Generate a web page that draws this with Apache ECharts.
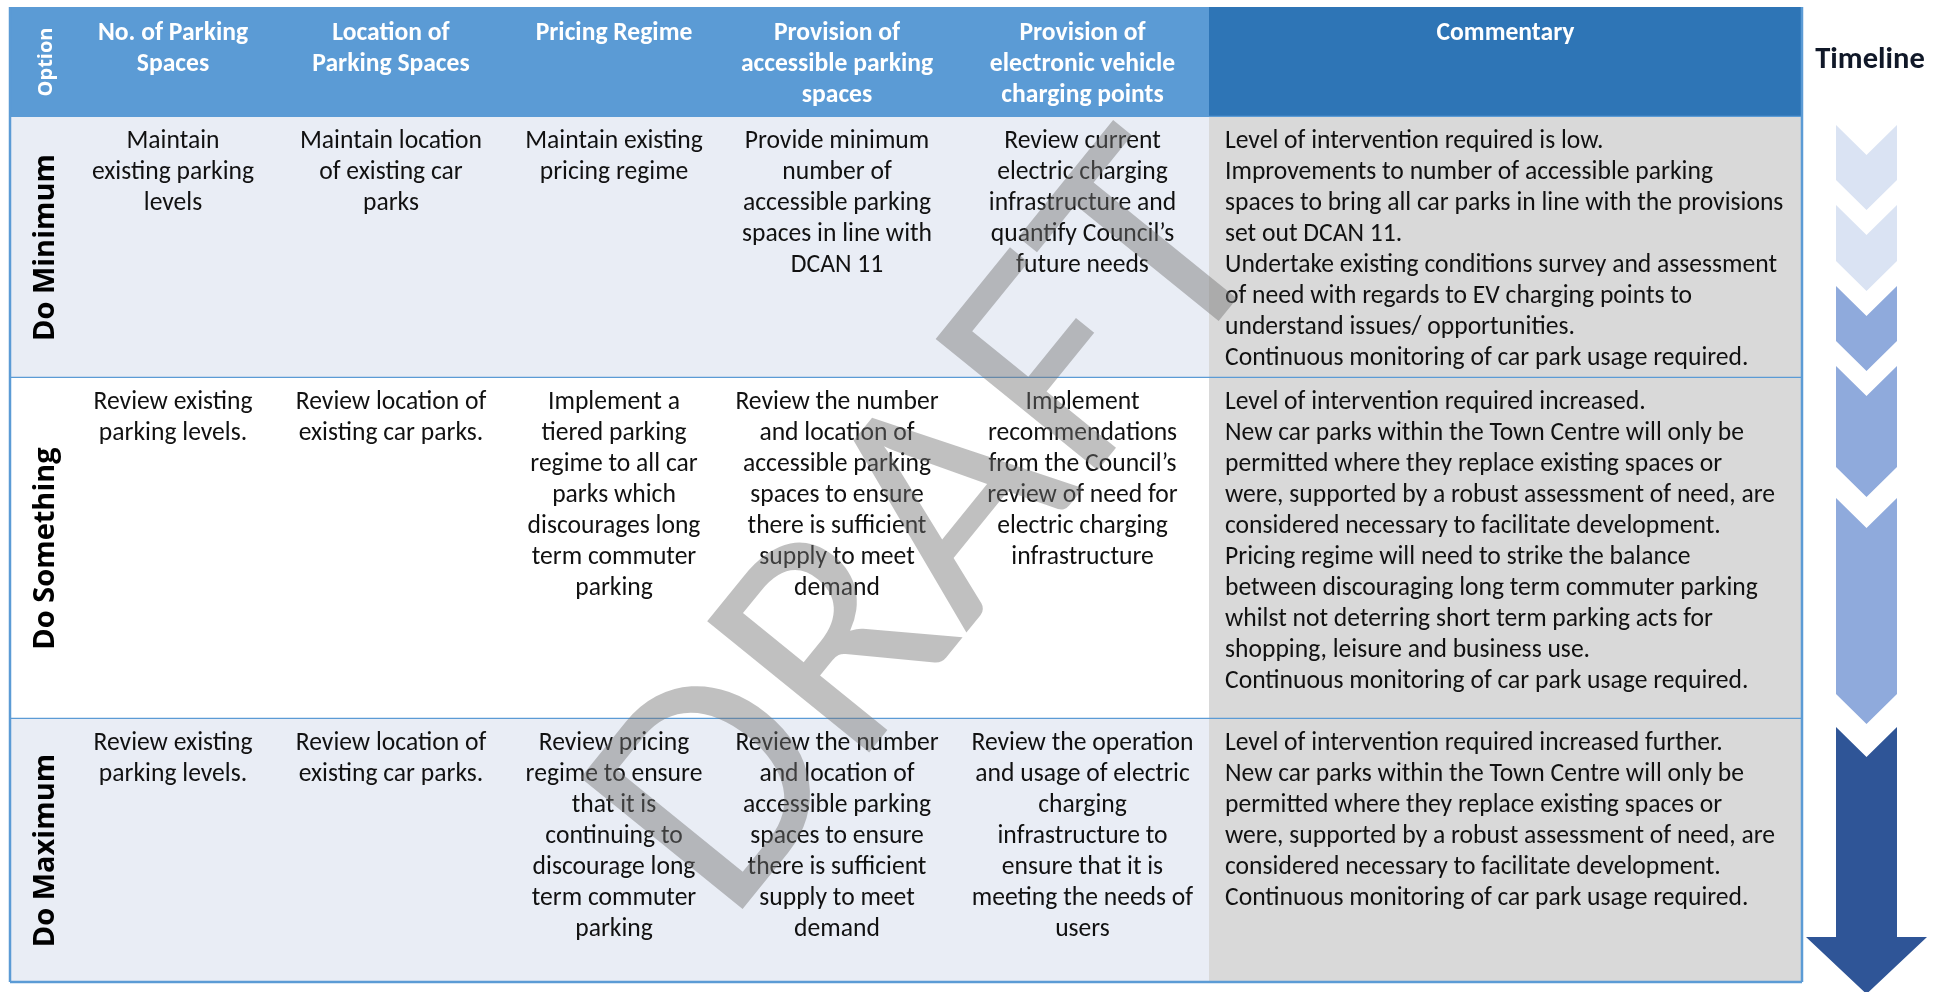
<!DOCTYPE html>
<html>
<head>
<meta charset="utf-8">
<script src="https://cdn.jsdelivr.net/npm/echarts@6/dist/echarts.min.js"></script>
<style>
html,body{margin:0;padding:0;background:#ffffff;}
#chart{width:1941px;height:992px;}
</style>
</head>
<body>
<div id="chart"></div>
<script>
// ---------------- DATA ----------------
const columns = [
  'Option',
  'No. of Parking\nSpaces',
  'Location of\nParking Spaces',
  'Pricing Regime',
  'Provision of\naccessible parking\nspaces',
  'Provision of\nelectronic vehicle\ncharging points',
  'Commentary'
];
const options = ['Do Minimum', 'Do Something', 'Do Maximum'];
const parkingNumbers = [
  'Maintain\nexisting parking\nlevels',
  'Review existing\nparking levels.',
  'Review existing\nparking levels.'
];
const parkingLocations = [
  'Maintain location\nof existing car\nparks',
  'Review location of\nexisting car parks.',
  'Review location of\nexisting car parks.'
];
const pricingRegime = [
  'Maintain existing\npricing regime',
  'Implement a\ntiered parking\nregime to all car\nparks which\ndiscourages long\nterm commuter\nparking',
  'Review pricing\nregime to ensure\nthat it is\ncontinuing to\ndiscourage long\nterm commuter\nparking'
];
const accessibleSpaces = [
  'Provide minimum\nnumber of\naccessible parking\nspaces in line with\nDCAN 11',
  'Review the number\nand location of\naccessible parking\nspaces to ensure\nthere is sufficient\nsupply to meet\ndemand',
  'Review the number\nand location of\naccessible parking\nspaces to ensure\nthere is sufficient\nsupply to meet\ndemand'
];
const evChargingPoints = [
  'Review current\nelectric charging\ninfrastructure and\nquantify Council\u2019s\nfuture needs',
  'Implement\nrecommendations\nfrom the Council\u2019s\nreview of need for\nelectric charging\ninfrastructure',
  'Review the operation\nand usage of electric\ncharging\ninfrastructure to\nensure that it is\nmeeting the needs of\nusers'
];
const commentary = [
  'Level of intervention required is low.\nImprovements to number of accessible parking\nspaces to bring all car parks in line with the provisions\nset out DCAN 11.\nUndertake existing conditions survey and assessment\nof need with regards to EV charging points to\nunderstand issues/ opportunities.\nContinuous monitoring of car park usage required.',
  'Level of intervention required increased.\nNew car parks within the Town Centre will only be\npermitted where they replace existing spaces or\nwere, supported by a robust assessment of need, are\nconsidered necessary to facilitate development.\nPricing regime will need to strike the balance\nbetween discouraging long term commuter parking\nwhilst not deterring short term parking acts for\nshopping, leisure and business use.\nContinuous monitoring of car park usage required.',
  'Level of intervention required increased further.\nNew car parks within the Town Centre will only be\npermitted where they replace existing spaces or\nwere, supported by a robust assessment of need, are\nconsidered necessary to facilitate development.\nContinuous monitoring of car park usage required.'
];
const timelineTitle = 'Timeline';
const timelineLevels = [1, 1, 2, 2, 2, 3];
const watermarkText = 'DRAFT';

// ---------------- LAYOUT / STYLE ----------------
const LAYOUT = {
  colEdges: [10, 74, 272, 510, 718, 956, 1209, 1802],
  rowEdges: [7, 117, 378, 719, 982],
  headerTop: 11,
  textTop: 9,
  lineHeight: 31,
  commentaryIndent: 16,
  labelX: 46,
  timeline: {
    cx: 1866.5, halfW: 30.5, depth: 30, headHalfW: 60.5, shaftEnd: 937,
    spans: [[125, 210], [205, 291], [286, 371], [366, 497], [498, 724], [727, 994]],
    titleX: 1870, titleY: 60
  },
  watermark: {x: 940, y: 536, angle: 51, size: 325}
};
const STYLE = {
  headerBg: '#5b9bd5',
  commentHeaderBg: '#2e75b6',
  bandBg: '#e9edf5',
  plainBg: '#ffffff',
  commentBg: '#d9d9d9',
  border: '#5b9bd5',
  bodyFont: "Carlito, Lato, 'Liberation Sans', sans-serif",
  bodySize: 25.6,
  labelFont: "'Open Sans', 'DejaVu Sans', sans-serif",
  levelColors: {1: '#dae3f3', 2: '#8faadc', 3: '#2f5597'}
};

const bodyColumns = [parkingNumbers, parkingLocations, pricingRegime, accessibleSpaces, evChargingPoints, commentary];

// build cell table [col, row]
const cells = [];
for (let r = 0; r < 4; r++) {
  for (let c = 0; c < columns.length; c++) cells.push([c, r]);
}
function cellText(c, r) {
  if (r === 0) return columns[c];
  if (c === 0) return options[r - 1];
  return bodyColumns[c - 1][r - 1];
}

function renderCell(params, api) {
  const c = api.value(0), r = api.value(1);
  const p0 = api.coord([LAYOUT.colEdges[c], LAYOUT.rowEdges[r]]);
  const p1 = api.coord([LAYOUT.colEdges[c + 1], LAYOUT.rowEdges[r + 1]]);
  const w = p1[0] - p0[0], h = p1[1] - p0[1];
  let bg;
  if (r === 0) bg = c === 6 ? STYLE.commentHeaderBg : STYLE.headerBg;
  else if (c === 6) bg = STYLE.commentBg;
  else bg = (r % 2 === 1) ? STYLE.bandBg : STYLE.plainBg;
  const children = [{type: 'rect', shape: {x: p0[0], y: p0[1], width: w, height: h}, style: {fill: bg}}];
  const text = cellText(c, r);
  if (c === 0) {
    const lx = api.coord([LAYOUT.labelX, 0])[0];
    children.push({
      type: 'text', x: lx, y: p0[1] + h / 2, rotation: Math.PI / 2,
      style: {
        text: text, fill: r === 0 ? '#ffffff' : '#000000',
        fontFamily: STYLE.labelFont, fontWeight: 'bold', fontSize: r === 0 ? 20 : 29,
        textAlign: 'center', textVerticalAlign: 'middle'
      }
    });
  } else {
    const isComment = c === 6 && r > 0;
    children.push({
      type: 'text',
      x: isComment ? p0[0] + LAYOUT.commentaryIndent : p0[0] + w / 2,
      y: p0[1] + (r === 0 ? LAYOUT.headerTop : LAYOUT.textTop),
      style: {
        text: text, fill: r === 0 ? '#ffffff' : '#111111',
        fontFamily: STYLE.bodyFont, fontWeight: r === 0 ? 'bold' : 'normal', fontSize: STYLE.bodySize,
        lineHeight: LAYOUT.lineHeight,
        textAlign: isComment ? 'left' : 'center', textVerticalAlign: 'top'
      }
    });
  }
  // borders
  const line = (x1, y1, x2, y2) => ({type: 'line', shape: {x1, y1, x2, y2}, style: {stroke: STYLE.border, lineWidth: 2.5}});
  children.push(line(p0[0], p1[1], p1[0], p1[1]));
  if (c === 0) children.push(line(p0[0], p0[1], p0[0], p1[1]));
  if (c === columns.length - 1) children.push(line(p1[0], p0[1], p1[0], p1[1]));
  return {type: 'group', children: children};
}

function renderStage(params, api) {
  const i = api.value(0), level = api.value(1);
  const T = LAYOUT.timeline;
  const span = T.spans[i];
  const top = api.coord([T.cx, span[0]]);
  const bot = api.coord([T.cx, span[1]]);
  const cx = top[0];
  const hw = api.size([T.halfW, 0])[0];
  const d = api.size([0, T.depth])[1];
  let pts;
  if (level < 3) {
    pts = [[cx - hw, top[1]], [cx, top[1] + d], [cx + hw, top[1]], [cx + hw, bot[1] - d], [cx, bot[1]], [cx - hw, bot[1] - d]];
  } else {
    const hh = api.size([T.headHalfW, 0])[0];
    const se = api.coord([T.cx, T.shaftEnd])[1];
    pts = [[cx - hw, top[1]], [cx, top[1] + d], [cx + hw, top[1]], [cx + hw, se], [cx + hh, se], [cx, bot[1]], [cx - hh, se], [cx - hw, se]];
  }
  return {type: 'polygon', shape: {points: pts}, style: {fill: STYLE.levelColors[level]}};
}

const chart = echarts.init(document.getElementById('chart'), null, {renderer: 'canvas'});
chart.setOption({
  animation: false,
  backgroundColor: '#ffffff',
  grid: {left: 0, right: 0, top: 0, bottom: 0},
  xAxis: {type: 'value', min: 0, max: 1941, show: false},
  yAxis: {type: 'value', min: 0, max: 992, inverse: true, show: false},
  series: [
    {type: 'custom', name: 'table', data: cells, renderItem: renderCell, silent: true, z: 1},
    {type: 'custom', name: 'timeline', data: timelineLevels.map((lv, i) => [i, lv]), renderItem: renderStage, silent: true, z: 2}
  ],
  graphic: [
    {
      type: 'text', x: LAYOUT.timeline.titleX, y: LAYOUT.timeline.titleY, z: 10,
      style: {text: timelineTitle, fill: '#101828', font: "bold 30.5px Carlito, Lato, 'Liberation Sans', sans-serif",
        textAlign: 'center', textVerticalAlign: 'middle'}
    },
    {
      type: 'text', x: LAYOUT.watermark.x, y: LAYOUT.watermark.y, z: 100,
      rotation: LAYOUT.watermark.angle * Math.PI / 180,
      style: {text: watermarkText, fill: 'rgba(115,115,115,0.45)',
        font: "300 " + LAYOUT.watermark.size + "px Carlito, Lato, 'Liberation Sans', sans-serif",
        textAlign: 'center', textVerticalAlign: 'middle'}
    }
  ]
});
</script>
</body>
</html>
